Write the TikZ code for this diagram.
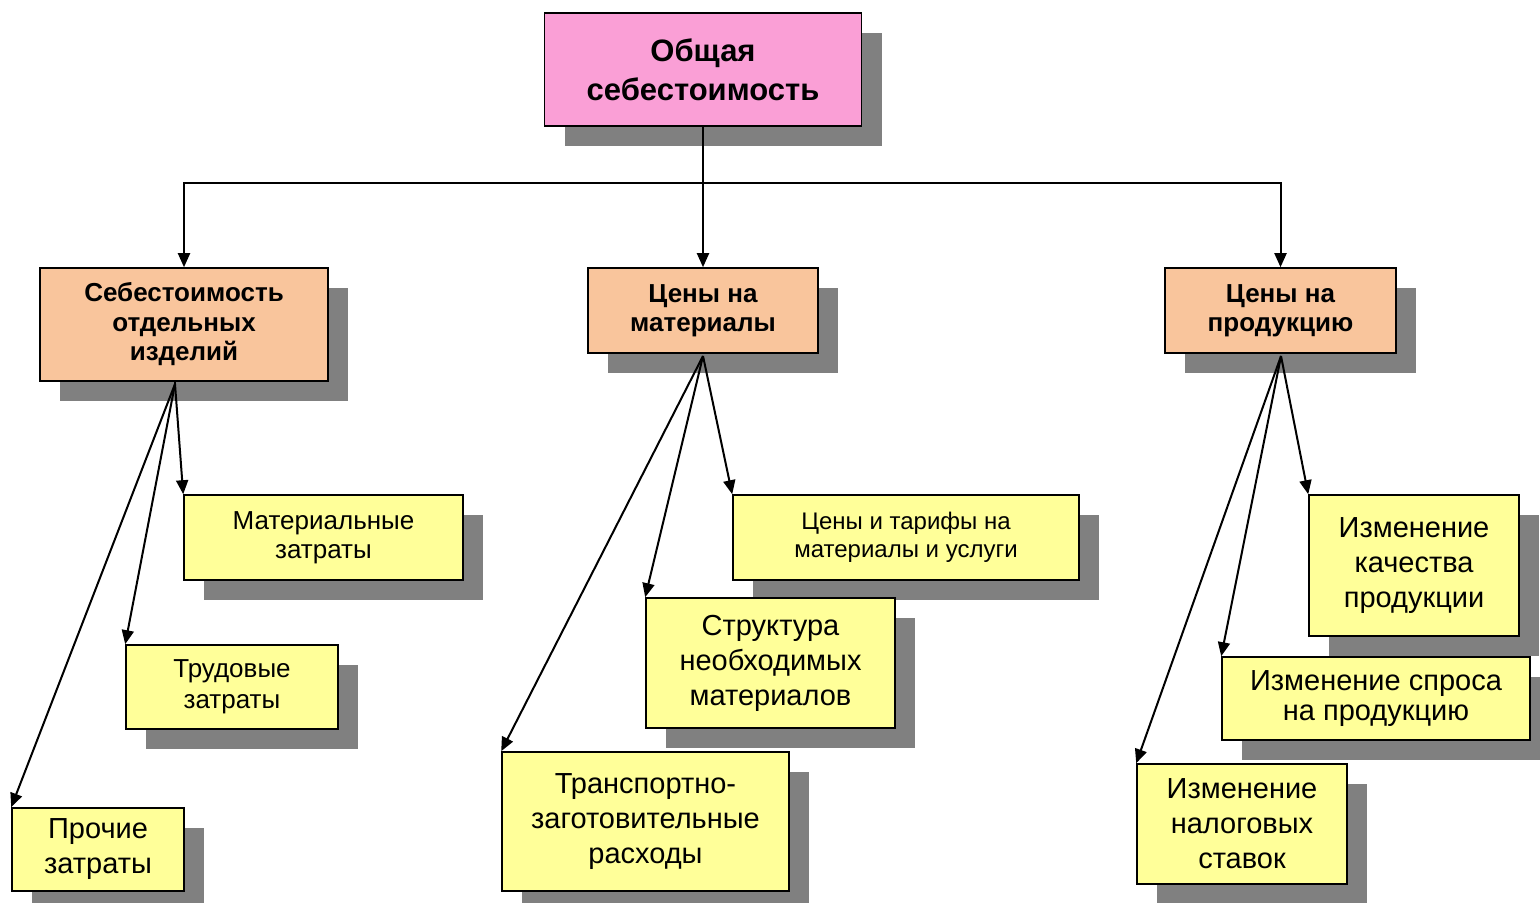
\documentclass[tikz,border=0pt]{standalone}
\usepackage[dvipsnames]{xcolor}
\usepackage{fontspec}
\setmainfont{Liberation Sans}
\usetikzlibrary{arrows.meta,shadows}
\definecolor{pinkbox}{HTML}{FA9FD6}
\definecolor{orangebox}{HTML}{F9C59C}
\definecolor{yellowbox}{HTML}{FFFF99}
\definecolor{shadowgray}{HTML}{808080}

\begin{document}
\begin{tikzpicture}[x=0.5pt,y=-0.5pt,>={Triangle[length=7pt,width=6pt]},line width=1pt,
  box/.style={draw=black,line width=0.8pt,align=center,inner sep=0pt,drop shadow={shadow xshift=10pt,shadow yshift=-10pt,fill=shadowgray,opacity=1}},
  top node/.style={box,fill=pinkbox,font=\bfseries\fontsize{15.5}{19.5}\selectfont},
  mid node/.style={box,fill=orangebox,font=\bfseries\fontsize{13}{14.75}\selectfont},
  leaf node/.style={box,fill=yellowbox,font=\fontsize{14.5}{17.5}\selectfont}]
  \useasboundingbox[fill=white] (0,0) rectangle (1540,902);

  \node[top node, minimum width=158.5pt, minimum height=56.5pt] (total) at (703,69.5) {Общая\\себестоимость};

  \node[mid node, minimum width=144pt, minimum height=56.5pt] (cost) at (184,324.5) {Себестоимость\\отдельных\\изделий};
  \node[mid node, minimum width=115pt, minimum height=42.5pt] (matprice) at (703,310.5) {Цены на\\материалы};
  \node[mid node, minimum width=115.5pt, minimum height=42.5pt] (prodprice) at (1280.5,310.5) {Цены на\\продукцию};

  \node[leaf node, minimum width=139.5pt, minimum height=42.5pt, font=\fontsize{13}{14.5}\selectfont] (matcost) at (323.5,537.5) {Материальные\\затраты};
  \node[leaf node, minimum width=106pt, minimum height=42pt, font=\fontsize{13}{15.5}\selectfont] (labcost) at (232,687) {Трудовые\\затраты};
  \node[leaf node, minimum width=86pt, minimum height=41.5pt] (othcost) at (98,849.5) {Прочие\\затраты};

  \node[leaf node, minimum width=173pt, minimum height=42.5pt, font=\fontsize{12}{14}\selectfont] (tariff) at (906,537.5) {Цены и тарифы на\\материалы и услуги};
  \node[leaf node, minimum width=124.5pt, minimum height=65pt] (struct) at (770.5,663) {Структура\\необходимых\\материалов};
  \node[leaf node, minimum width=143.5pt, minimum height=69.5pt] (transp) at (645.5,821.5) {Транспортно-\\заготовительные\\расходы};

  \node[leaf node, minimum width=105pt, minimum height=70.5pt] (quality) at (1414,565.5) {Изменение\\качества\\продукции};
  \node[leaf node, minimum width=154pt, minimum height=41.5pt, font=\fontsize{14.5}{15}\selectfont] (demand) at (1376,698.5) {Изменение спроса\\на продукцию};
  \node[leaf node, minimum width=105pt, minimum height=60pt] (tax) at (1242,824) {Изменение\\налоговых\\ставок};

  \coordinate (bus) at (703,183);
  \coordinate (costfan) at (175,384);
  \coordinate (matfan) at (703,356);
  \coordinate (prodfan) at (1281,356);

  % top level
  \draw (total) -- (bus);
  \draw[->] (bus) -| (cost.north);
  \draw[->] (bus) -- (matprice.north);
  \draw[->] (bus) -| (prodprice.north);

  % fans
  \draw (cost.south -| costfan) -- (costfan);
  \path[->]
    (costfan) edge (matcost.north west)
    (costfan) edge (labcost.north west)
    (costfan) edge (othcost.north west)
    (matfan) edge (tariff.north west)
    (matfan) edge (struct.north west)
    (matfan) edge (transp.north west)
    (prodfan) edge (quality.north west)
    (prodfan) edge (demand.north west)
    (prodfan) edge (tax.north west);
\end{tikzpicture}
\end{document}
